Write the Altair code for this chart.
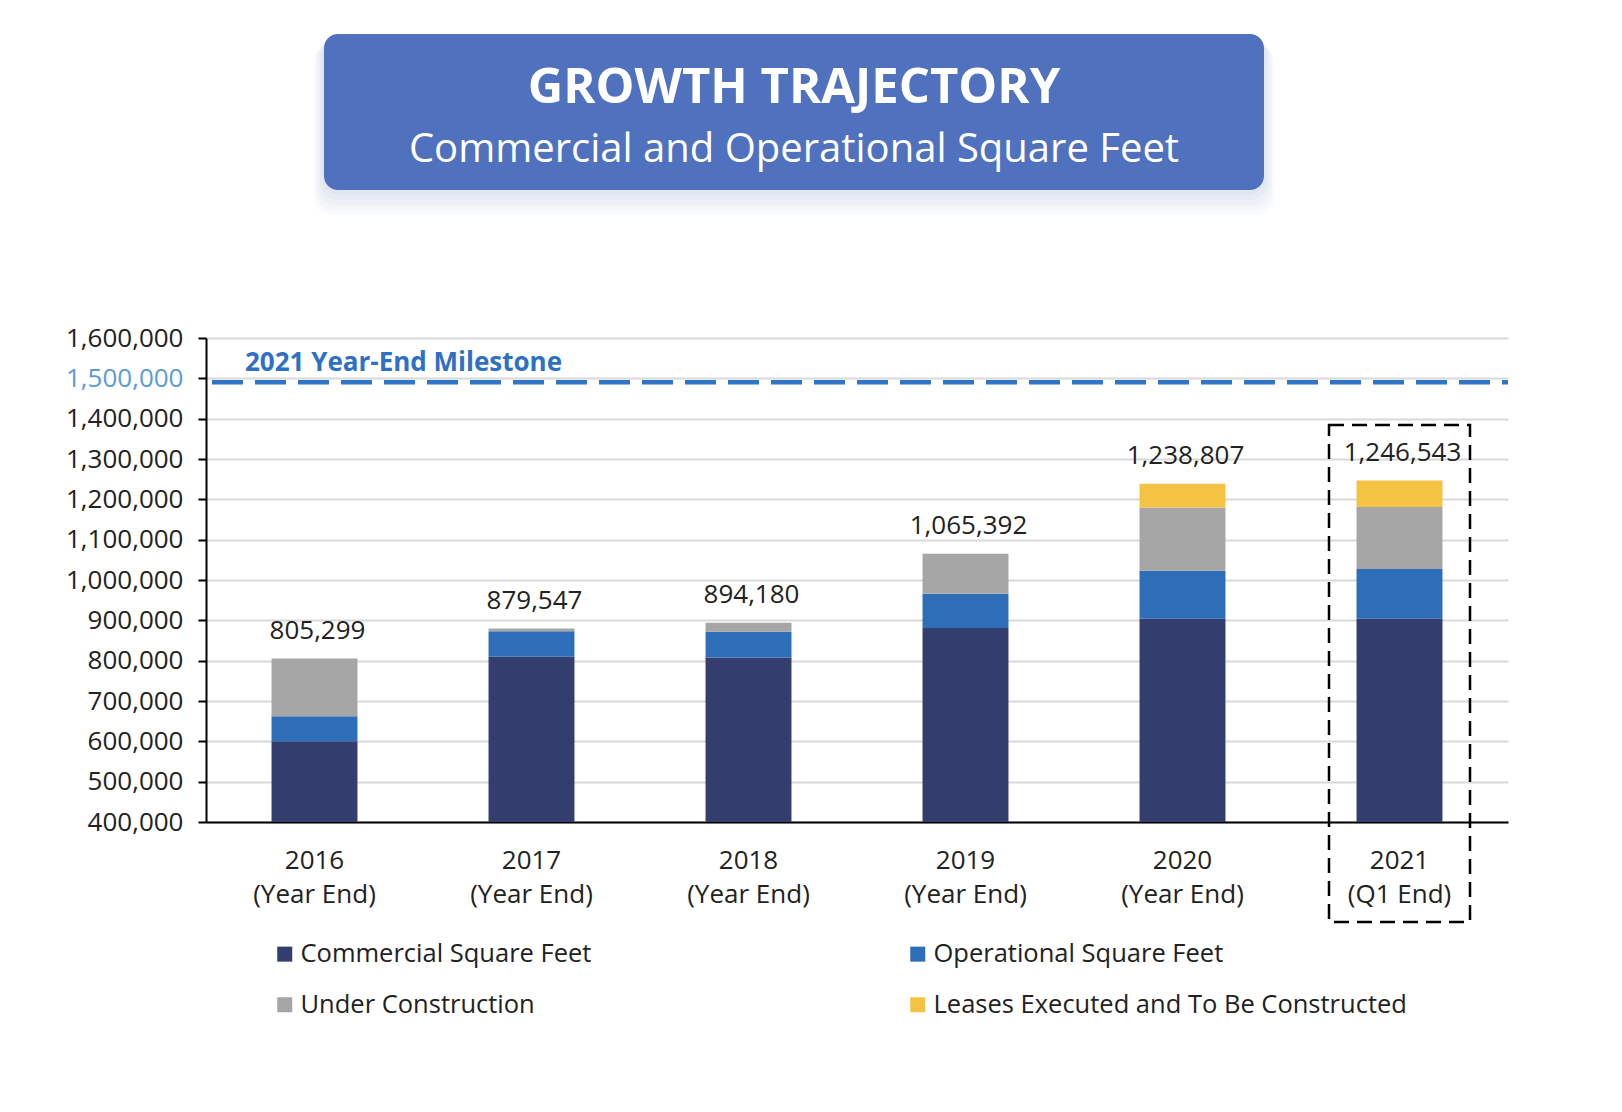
import altair as alt
import pandas as pd

# ---------------- data ----------------
years = ["2016", "2017", "2018", "2019", "2020", "2021"]
periods = ["(Year End)", "(Year End)", "(Year End)", "(Year End)", "(Year End)", "(Q1 End)"]
series = ["Commercial Square Feet", "Operational Square Feet",
          "Under Construction", "Leases Executed and To Be Constructed"]
commercial = [600000, 810000, 808000, 881000, 904000, 904000]
operational = [62000, 63000, 64000, 85000, 119000, 123000]
under_construction = [143299, 6547, 22180, 99392, 157000, 154000]
leases = [0, 0, 0, 0, 58807, 65543]
totals = [805299, 879547, 894180, 1065392, 1238807, 1246543]
y_ticks = [400000, 500000, 600000, 700000, 800000, 900000, 1000000, 1100000,
           1200000, 1300000, 1400000, 1500000, 1600000]
milestone = 1500000
milestone_label = "2021 Year-End Milestone"
title_text = "GROWTH TRAJECTORY"
subtitle_text = "Commercial and Operational Square Feet"
highlight_year = "2021"
colors = ["#333D6E", "#2E6EB8", "#A6A6A6", "#F5C343"]

categories = [f"{y}|{p}" for y, p in zip(years, periods)]
highlight_cat = categories[years.index(highlight_year)]

rows = []
for i, c in enumerate(categories):
    for k, (s, vals) in enumerate(zip(series, [commercial, operational, under_construction, leases])):
        rows.append({"cat": c, "series": s, "idx": k, "value": vals[i]})
df = pd.DataFrame(rows)
df_tot = pd.DataFrame({"cat": categories, "value": totals})
df_m = pd.DataFrame({"value": [milestone], "t": [milestone_label]})
df_box = pd.DataFrame({"cat": [highlight_cat]})
df_one = pd.DataFrame({"a": [0]})

W, H = 1302, 484
FONT = "Open Sans"

x_scale = alt.Scale(domain=categories, paddingInner=0.604, paddingOuter=0.302)
y_scale = alt.Scale(domain=[400000, 1600000], zero=False, clamp=True, nice=False)

x_enc = alt.X("cat:N", sort=categories, scale=x_scale,
              axis=alt.Axis(title=None, labelExpr="split(datum.label, '|')",
                            ticks=False, domainColor="black", domainWidth=2,
                            labelFontSize=26, labelPadding=25, labelLineHeight=34,
                            labelColor="#222222", labelAngle=0, grid=False,
                            labelFont=FONT))

y_axis = alt.Axis(title=None, values=y_ticks, format=",d", labelFontSize=26,
                  labelFont=FONT,
                  labelColor=alt.condition(f"datum.value == {milestone}",
                                           alt.value("#5B9BD5"), alt.value("#222222")),
                  domainColor="black", domainWidth=2, tickColor="black",
                  tickWidth=2, tickSize=8, labelPadding=15,
                  gridColor="#D9D9D9", gridWidth=2)

bars = alt.Chart(df).mark_bar().encode(
    x=x_enc,
    y=alt.Y("value:Q", stack="zero", scale=y_scale, axis=y_axis),
    color=alt.Color("series:N", sort=series,
                    scale=alt.Scale(domain=series, range=colors),
                    legend=alt.Legend(title=None, orient="none", legendX=66, legendY=603,
                                      direction="horizontal",
                                      columns=2, columnPadding=313, rowPadding=24,
                                      symbolType="square", symbolSize=225,
                                      symbolStrokeWidth=0, labelFontSize=25.5,
                                      labelFont=FONT, labelColor="#222222",
                                      labelOffset=3, labelLimit=700,
                                      gridAlign="each")),
    order=alt.Order("idx:Q", sort="ascending"),
)

tot_text = alt.Chart(df_tot).mark_text(dy=-20, dx=3, fontSize=26, font=FONT,
                                       baseline="alphabetic", color="#222222").encode(
    x=alt.X("cat:N", sort=categories),
    y=alt.Y("value:Q"),
    text=alt.Text("value:Q", format=",d"),
)

rule = alt.Chart(df_m).mark_rule(strokeDash=[31, 12], strokeWidth=4.5,
                                 color="#2E75C6", yOffset=4).encode(
    y=alt.Y("value:Q"), x=alt.value(6), x2=alt.value(W))

m_text = alt.Chart(df_m).mark_text(align="left", baseline="alphabetic", dy=-7,
                                   fontSize=26, fontWeight="bold", font=FONT,
                                   color="#2E70C4").encode(
    x=alt.value(39), y=alt.Y("value:Q"), text="t:N")

box = alt.Chart(df_box).mark_bar(width=141, fill="transparent", stroke="black",
                                 strokeWidth=2.5, strokeDash=[15, 8]).encode(
    x=alt.X("cat:N", sort=categories), y=alt.value(87), y2=alt.value(584))

# title banner
bx0, bx1, by0, by1 = 118, 1058, -304, -148
shadows = []
for k in range(1, 6):
    shadows.append(
        alt.Chart(df_one).mark_rect(cornerRadius=18, color="#6070A8", opacity=0.035).encode(
            x=alt.value(bx0 - 2 * k), x2=alt.value(bx1 + 2 * k),
            y=alt.value(by0 + 2 * k), y2=alt.value(by1 + 5 * k))
    )
banner = alt.Chart(df_one).mark_rect(cornerRadius=14, color="#4F71BE").encode(
    x=alt.value(bx0), x2=alt.value(bx1), y=alt.value(by0), y2=alt.value(by1))
t1 = alt.Chart(df_one).mark_text(fontSize=49, fontWeight="bold", font=FONT, color="white",
                                 baseline="middle", align="center").encode(
    x=alt.value((bx0 + bx1) / 2), y=alt.value(-250), text=alt.value(title_text))
t2 = alt.Chart(df_one).mark_text(fontSize=40, font=FONT, color="white",
                                 baseline="middle", align="center").encode(
    x=alt.value((bx0 + bx1) / 2), y=alt.value(-188), text=alt.value(subtitle_text))

chart = alt.layer(*shadows, banner, t1, t2, bars, tot_text, rule, m_text, box).properties(
    width=W, height=H,
    autosize=alt.AutoSizeParams(type="none"),
    padding={"left": 198, "top": 330, "right": 100, "bottom": 280},
    background="white",
).configure(font=FONT).configure_view(strokeWidth=0)

chart.save("out.html", embed_options={"renderer": "svg", "actions": False})
